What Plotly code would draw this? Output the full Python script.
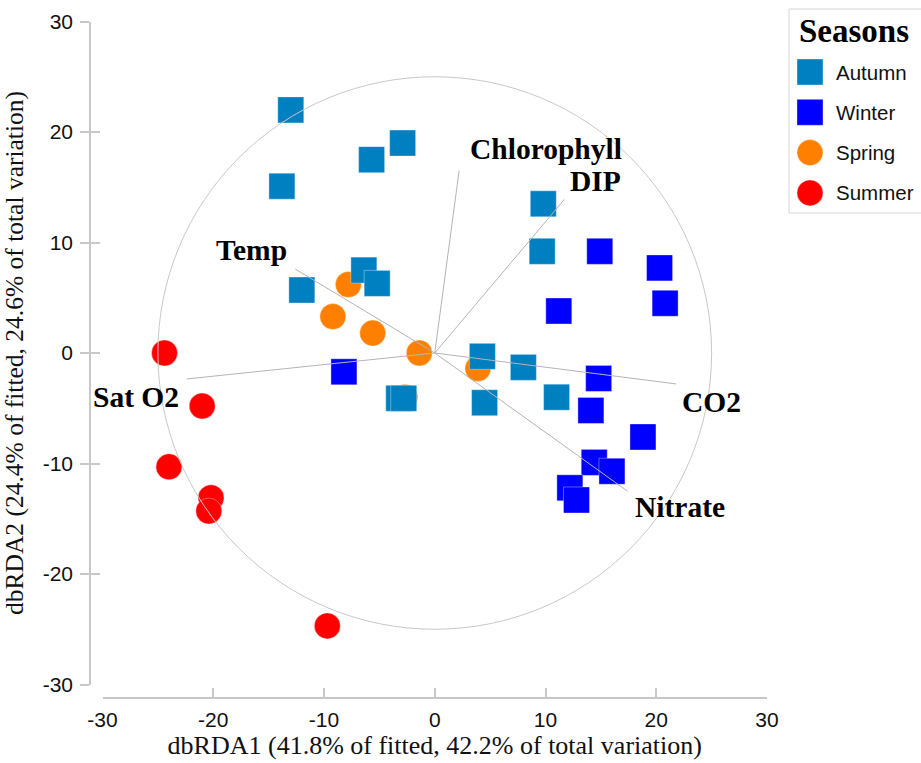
import plotly.graph_objects as go

# ---------------- data ----------------
seasons = ["Autumn", "Winter", "Spring", "Summer"]

autumn_x = [-13.0, -13.8, -5.7, -2.9, -6.4, -5.2, -12.0, -3.25, -2.8, 9.8, 9.7, 4.3, 8.0, 4.5, 11.0]
autumn_y = [22.0, 15.1, 17.5, 19.0, 7.5, 6.3, 5.7, -4.1, -4.1, 13.5, 9.2, -0.3, -1.3, -4.5, -4.0]

winter_x = [14.9, 20.3, 20.8, 11.2, 14.8, 14.1, 18.8, 14.4, 16.0, 12.2, 12.8, -8.2]
winter_y = [9.2, 7.7, 4.5, 3.8, -2.3, -5.2, -7.6, -9.9, -10.7, -12.2, -13.3, -1.7]

spring_x = [-7.8, -9.2, -5.6, -1.4, 3.9, -2.7]
spring_y = [6.2, 3.3, 1.8, 0.0, -1.4, -4.0]

summer_x = [-24.4, -21.0, -24.0, -20.2, -20.4, -9.7]
summer_y = [0.0, -4.8, -10.3, -13.1, -14.3, -24.7]

vec_names = ["Chlorophyll", "DIP", "CO2", "Nitrate", "Temp", "Sat O2"]
vec_x = [2.2, 11.7, 21.8, 17.4, -12.6, -22.4]
vec_y = [16.5, 13.9, -2.8, -12.5, 7.6, -2.35]
circle_radius = 25

tick_vals = [-30, -20, -10, 0, 10, 20, 30]
tick_text = ["-30", "-20", "-10", "0", "10", "20", "30"]
x_title = "dbRDA1 (41.8% of fitted, 42.2% of total variation)"
y_title = "dbRDA2 (24.4% of fitted, 24.6% of total variation)"

# ---------------- styles ----------------
colors = {"Autumn": "#0080C0", "Winter": "#0000FF", "Spring": "#FF8000", "Summer": "#FF0000"}
symbols = {"Autumn": "square", "Winter": "square", "Spring": "circle", "Summer": "circle"}
season_data = {
    "Autumn": (autumn_x, autumn_y),
    "Winter": (winter_x, winter_y),
    "Spring": (spring_x, spring_y),
    "Summer": (summer_x, summer_y),
}
# label offsets (px) relative to vector tips: (xanchor, xshift, yshift)
label_pos = {
    "Chlorophyll": ("right", 164, 22),
    "DIP": ("right", 58, 18),
    "CO2": ("left", 5, -18),
    "Nitrate": ("left", 7, -16),
    "Temp": ("right", -7, 19),
    "Sat O2": ("right", -7, -18),
}

W, H = 921, 763
L, R, T, B = 90, 154, 21, 65
PW = W - L - R
PH = H - T - B


def pxx(xp):
    return (xp - L) / PW


def pxy(yp):
    return (H - B - yp) / PH


SERIF = "Liberation Serif, Times New Roman, serif"
SANS = "Liberation Sans, Arial, sans-serif"
AX = "#c8c8c8"

fig = go.Figure()

for s in ["Summer", "Winter", "Spring", "Autumn"]:
    xs, ys = season_data[s]
    fig.add_trace(go.Scatter(
        x=xs, y=ys, mode="markers", name=s, showlegend=False,
        marker=dict(symbol=symbols[s], size=26, color=colors[s],
                    line=dict(width=1, color="rgba(255,255,255,0.35)")),
    ))

lx, ly = [], []
for vx, vy in zip(vec_x, vec_y):
    lx += [0, vx, None]
    ly += [0, vy, None]
fig.add_trace(go.Scatter(x=lx, y=ly, mode="lines", showlegend=False,
                         line=dict(color="#b4b4b4", width=1), hoverinfo="skip"))

# dummy trace for the overlay axis that carries the inner half of y ticks
fig.add_trace(go.Scatter(x=[None], y=[None], yaxis="y2", showlegend=False, hoverinfo="skip"))

# circle
fig.add_shape(type="circle", xref="x", yref="y",
              x0=-circle_radius, x1=circle_radius, y0=-circle_radius, y1=circle_radius,
              line=dict(color="#c8c8c8", width=1), layer="above")

# vector labels
for n, vx, vy in zip(vec_names, vec_x, vec_y):
    xa, xs_, ys_ = label_pos[n]
    fig.add_annotation(x=vx, y=vy, xref="x", yref="y", text=n, showarrow=False,
                       xanchor=xa, yanchor="middle", xshift=xs_, yshift=ys_,
                       borderpad=0,
                       font=dict(family=SERIF, size=29.5, color="#000000", weight="bold"))

# manual legend
fig.add_shape(type="rect", xref="paper", yref="paper",
              x0=pxx(789), x1=pxx(935), y0=pxy(213), y1=pxy(9),
              line=dict(color="#d6d6d6", width=1), fillcolor="rgba(0,0,0,0)", layer="below")
fig.add_annotation(x=pxx(797), y=pxy(31), xref="paper", yref="paper", text="Seasons",
                   showarrow=False, xanchor="left", yanchor="middle",
                   font=dict(family=SERIF, size=33, color="#000000", weight="bold"))
for i, s in enumerate(seasons):
    cy = 72 + i * 40.3
    fig.add_shape(type="rect" if symbols[s] == "square" else "circle",
                  xref="paper", yref="paper", xsizemode="pixel", ysizemode="pixel",
                  xanchor=pxx(810), yanchor=pxy(cy), x0=-13, x1=13, y0=-13, y1=13,
                  fillcolor=colors[s], line=dict(width=1, color="rgba(255,255,255,0.35)"))
    fig.add_annotation(x=pxx(834), y=pxy(cy), xref="paper", yref="paper", text=s,
                       showarrow=False, xanchor="left", yanchor="middle",
                       font=dict(family=SANS, size=20.5, color="#111111"))

xdom = [max(0, pxx(102.5)), min(1, pxx(767.5))]
ydom = [max(0, pxy(684.5)), min(1, pxy(21.5))]

fig.update_layout(
    width=W, height=H,
    margin=dict(l=L, r=R, t=T, b=B, pad=0, autoexpand=False),
    paper_bgcolor="white", plot_bgcolor="white",
    showlegend=False,
    xaxis=dict(range=[-30, 30], domain=xdom, anchor="free", position=0, automargin=False,
               showgrid=False, zeroline=False, showline=True, linecolor=AX, linewidth=1.5,
               ticks="inside", ticklen=9, tickwidth=1.5, tickcolor=AX,
               tickmode="array", tickvals=tick_vals, ticktext=tick_text, ticklabelstandoff=3,
               tickfont=dict(family=SANS, size=21, color="#111111"),
               title=dict(text=x_title, font=dict(family=SERIF, size=26, color="#111111"), standoff=4)),
    yaxis=dict(range=[-30, 30], domain=ydom, anchor="free", position=0, automargin=False,
               showgrid=False, zeroline=False, showline=True, linecolor=AX, linewidth=1.5,
               ticks="outside", ticklen=9, tickwidth=1.5, tickcolor=AX,
               tickmode="array", tickvals=tick_vals, ticktext=tick_text, ticklabelstandoff=3,
               tickfont=dict(family=SANS, size=21, color="#111111"),
               title=dict(text=y_title, font=dict(family=SERIF, size=25.5, color="#111111"), standoff=14)),
    yaxis2=dict(range=[-30, 30], overlaying="y", anchor="free", position=0, automargin=False,
                showgrid=False, zeroline=False, showline=False,
                ticks="inside", ticklen=9, tickwidth=1.5, tickcolor=AX,
                tickmode="array", tickvals=tick_vals, showticklabels=False),
)

fig.write_html("out.html")
